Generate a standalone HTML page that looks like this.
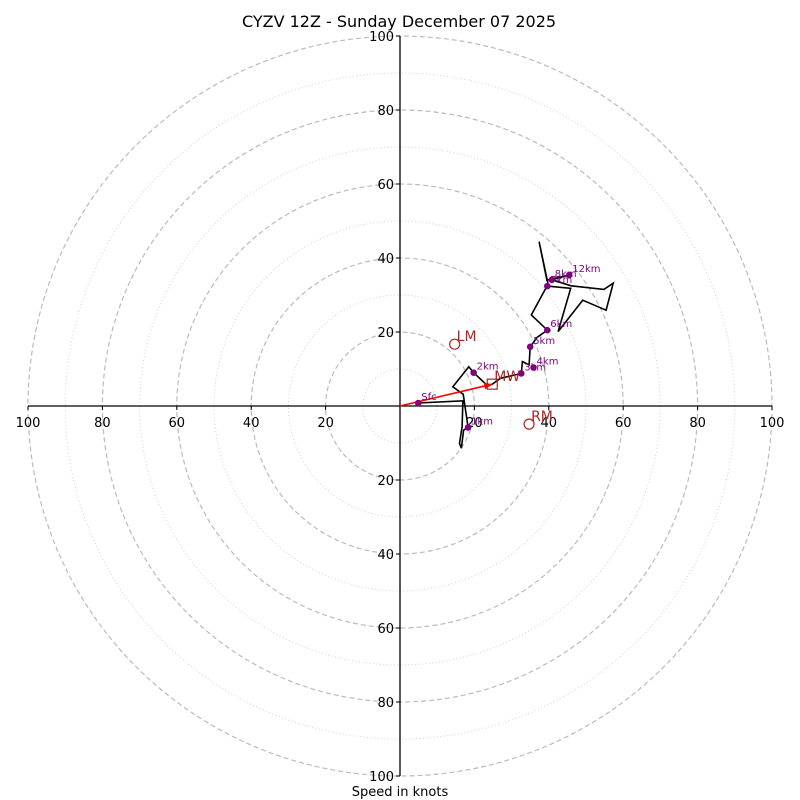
<!DOCTYPE html>
<html><head><meta charset="utf-8"><style>
html,body{margin:0;padding:0;background:#fff;}
svg{display:block;font-family:"DejaVu Sans","Liberation Sans",sans-serif;}
</style></head><body>
<svg id="chart" width="800" height="800" viewBox="0 0 800 800" xmlns="http://www.w3.org/2000/svg">
<rect width="800" height="800" fill="#fff"/>
<text x="399" y="27" font-size="16" text-anchor="middle">CYZV 12Z - Sunday December 07 2025</text>
<text x="400" y="796" font-size="13" text-anchor="middle">Speed in knots</text>
<g id="grid"></g><g id="axes"></g><g id="trace"></g><g id="marks"></g>
</svg>
<script>
const ringValues = [10,20,30,40,50,60,70,80,90,100];
const tickValues = [20,40,60,80,100];
const traceU = [4.9,16.9,16.7,16.0,16.5,17.1,18.3,17.0,14.2,18.5,19.8,23.6,24.8,27.0,32.6,32.9,34.7,35.0,36.9,39.6,35.3,39.2,39.6,45.9,42.5,49.1,55.4,57.3,54.8,46.0,40.8,45.5,39.5,37.4,40.0];
const traceV = [0.8,1.4,-5.6,-10.1,-11.4,-6.5,-5.8,3.2,5.2,10.6,9.0,5.4,5.9,7.5,8.8,12.0,11.1,16.0,18.6,20.5,24.6,31.8,32.4,31.8,20.1,28.6,25.9,33.2,31.5,32.5,34.1,35.4,34.0,44.4,32.0];
const levelNames = ["Sfc","1km","2km","3km","4km","5km","6km","7km","8km","12km"];
const levelU = [4.9,18.3,19.8,32.6,35.9,35.0,39.6,39.6,40.8,45.5];
const levelV = [0.8,-5.8,9.0,8.8,10.4,16.0,20.5,32.4,34.1,35.4];
const motionNames = ["LM","RM","MW"];
const motionU = [14.7,34.7,24.8];
const motionV = [16.7,-4.9,5.9];

const CX=400, CY=406, SX=3.72, SY=3.7;
const X=u=>CX+u*SX, Y=v=>CY-v*SY;
const NS="http://www.w3.org/2000/svg";
function mk(tag,parent,attrs){const e=document.createElementNS(NS,tag);for(const k in attrs)e.setAttribute(k,attrs[k]);parent.appendChild(e);return e;}
const grid=document.getElementById('grid'),axes=document.getElementById('axes'),trace=document.getElementById('trace'),marks=document.getElementById('marks');

ringValues.forEach(r=>{
  const major=r%20===0;
  const c=mk('ellipse',grid,{cx:CX,cy:CY,rx:r*SX,ry:r*SY,fill:'none',stroke:major?'#bbbbbb':'#cfcfcf','stroke-width':major?1.2:1,'stroke-dasharray':major?'5,3':'1,2.5'});
  
  
});
let l=mk('line',axes,{x1:X(-100),y1:CY,x2:X(100),y2:CY,stroke:'#000','stroke-width':1.3});


l=mk('line',axes,{x1:CX,y1:Y(100),x2:CX,y2:Y(-100),stroke:'#000','stroke-width':1.3});


tickValues.forEach(t=>{
  [-1,1].forEach(s=>{
    mk('line',axes,{x1:X(s*t),y1:CY,x2:X(s*t),y2:CY+4,stroke:'#000'});
    let tx=mk('text',axes,{x:X(s*t),y:CY+21,'font-size':13,'text-anchor':'middle'});
    tx.textContent=t;
    
    
    mk('line',axes,{x1:CX-4,y1:Y(s*t),x2:CX,y2:Y(s*t),stroke:'#000'});
    let ty=mk('text',axes,{x:CX-6,y:Y(s*t)+5,'font-size':13,'text-anchor':'end'});
    ty.textContent=t;
    
    
  });
});
const pts=traceU.map((u,i)=>X(u).toFixed(1)+','+Y(traceV[i]).toFixed(1)).join(' ');
const pl=mk('polyline',trace,{points:pts,fill:'none',stroke:'#000','stroke-width':1.6,'stroke-linejoin':'miter'});



const mwx=X(motionU[2]),mwy=Y(motionV[2]);
const ang=Math.atan2(mwy-CY,mwx-CX);
const ar=mk('line',marks,{x1:CX,y1:CY,x2:mwx,y2:mwy,stroke:'red','stroke-width':1.6});


const hl=8,hw=3.5;
const bx=mwx-hl*Math.cos(ang),by=mwy-hl*Math.sin(ang);
const ah=mk('polygon',marks,{points:`${mwx},${mwy} ${bx-hw*Math.sin(ang)},${by+hw*Math.cos(ang)} ${bx+hw*Math.sin(ang)},${by-hw*Math.cos(ang)}`,fill:'red'});



levelNames.forEach((n,i)=>{
  const x=X(levelU[i]),y=Y(levelV[i]);
  const d=mk('circle',marks,{cx:x,cy:y,r:3.3,fill:'#800080'});
  
  
  const t=mk('text',marks,{x:x+3,y:y-3,'font-size':10,fill:'#800080'});
  t.textContent=n;
  
  
});
motionNames.forEach((n,i)=>{
  const x=X(motionU[i]),y=Y(motionV[i]);
  let m;
  if(n==='MW') m=mk('rect',marks,{x:x-5,y:y-5,width:10,height:10,fill:'none',stroke:'#b22222','stroke-width':1.2});
  else m=mk('circle',marks,{cx:x,cy:y,r:5,fill:'none',stroke:'#b22222','stroke-width':1.2});
  
  
  const t=mk('text',marks,{x:x+2,y:y-3,'font-size':14,fill:'#b22222'});
  t.textContent=n;
  
  
});
</script>
</body></html>
